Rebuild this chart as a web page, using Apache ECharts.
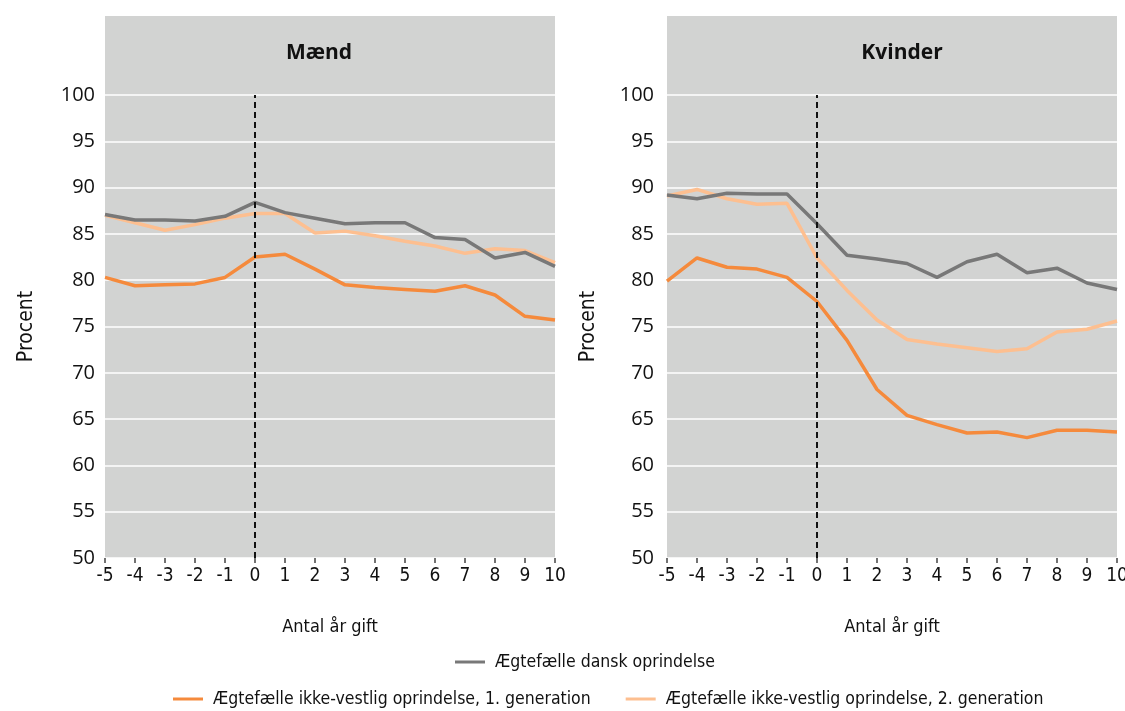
<!DOCTYPE html>
<html><head><meta charset="utf-8">
<script src="https://cdn.jsdelivr.net/npm/echarts@6/dist/echarts.min.js"></script>
<style>html,body{margin:0;padding:0;background:#fff}#c{width:1125px;height:711px}</style>
</head><body><div id="c"></div>
<script>
const years = [-5,-4,-3,-2,-1,0,1,2,3,4,5,6,7,8,9,10];
const panels = ['Mænd','Kvinder'];
const seriesNames = ['Ægtefælle dansk oprindelse','Ægtefælle ikke-vestlig oprindelse, 1. generation','Ægtefælle ikke-vestlig oprindelse, 2. generation'];
// Mænd
const menDansk = [87.1,86.5,86.5,86.4,86.9,88.4,87.3,86.7,86.1,86.2,86.2,84.6,84.4,82.4,83.0,81.5];
const menGen1  = [80.3,79.4,79.5,79.6,80.3,82.5,82.8,81.2,79.5,79.2,79.0,78.8,79.4,78.4,76.1,75.7];
const menGen2  = [87.0,86.2,85.4,86.0,86.7,87.2,87.2,85.1,85.3,84.8,84.2,83.7,82.9,83.4,83.2,81.9];
// Kvinder
const womDansk = [89.2,88.8,89.4,89.3,89.3,86.1,82.7,82.3,81.8,80.3,82.0,82.8,80.8,81.3,79.7,79.0];
const womGen1  = [79.9,82.4,81.4,81.2,80.3,77.7,73.5,68.2,65.4,64.4,63.5,63.6,63.0,63.8,63.8,63.6];
const womGen2  = [89.1,89.8,88.8,88.2,88.3,82.4,78.9,75.7,73.6,73.1,72.7,72.3,72.6,74.4,74.7,75.6];
const yTicks = [50,55,60,65,70,75,80,85,90,95,100];

const colors = ['#787878','#f58a3c','#fdbf90'];
const BG = '#d2d3d2';
const FONT = '"Liberation Sans Narrow","DejaVu Sans Condensed","Liberation Sans",sans-serif';
const FONT2 = '"Open Sans","Noto Sans",sans-serif';

const gridDefs = [{left:105, width:450}, {left:667, width:450}];
const titleCenters = [314, 897];
const pair = arr => years.map((y,i)=>[y,arr[i]]);
const data = [[menDansk,menGen1,menGen2],[womDansk,womGen1,womGen2]];

const option = {
  animation:false,
  backgroundColor:'#fff',
  graphic: gridDefs.map(g=>({type:'rect', shape:{x:g.left, y:16, width:g.width, height:79}, style:{fill:BG}, z:-1})),
  title: panels.map((p,i)=>({text:p, left:titleCenters[i], top:38, textAlign:'center',
    textStyle:{fontFamily:FONT2, fontWeight:'bold', fontSize:21, color:'#111'}})),
  grid: gridDefs.map(g=>({left:g.left, width:g.width, top:95, height:463, show:true, backgroundColor:BG,
    borderWidth:0, containLabel:false, outerBoundsMode:'none'})),
  xAxis: gridDefs.map((g,i)=>({type:'value', gridIndex:i, min:-5, max:10, interval:1,
    name:'Antal år gift', nameLocation:'middle', nameGap:60,
    nameTextStyle:{fontFamily:FONT, fontSize:18, color:'#111'},
    axisLine:{show:false}, axisTick:{show:true, length:5, lineStyle:{color:'#444', width:1.5}},
    axisLabel:{fontFamily:FONT, fontSize:19, color:'#111', margin:9},
    splitLine:{show:false}})),
  yAxis: gridDefs.map((g,i)=>({type:'value', gridIndex:i, min:yTicks[0], max:yTicks[yTicks.length-1], interval:5,
    name:'Procent', nameLocation:'middle', nameGap:68, nameRotate:90,
    nameTextStyle:{fontFamily:FONT, fontSize:21, color:'#111'},
    axisLine:{show:false}, axisTick:{show:false},
    axisLabel:{fontFamily:FONT2, fontSize:20, color:'#111', margin:i===0?10:13},
    splitLine:{show:true, lineStyle:{color:'#ffffff', width:1.5}}})),
  legend: [
    {data:[seriesNames[0]], top:648, left:450, itemWidth:30, itemHeight:3, itemGap:35,
      icon:'rect', textStyle:{fontFamily:FONT, fontSize:17.5, color:'#111', padding:[0,0,0,5]}},
    {data:[seriesNames[1],seriesNames[2]], top:685, left:168, itemWidth:30, itemHeight:3, itemGap:35,
      icon:'rect', textStyle:{fontFamily:FONT, fontSize:17.5, color:'#111', padding:[0,0,0,5]}}
  ],
  series: []
};
data.forEach((set,pi)=>{
  set.forEach((arr,si)=>{
    const s = {type:'line', name:seriesNames[si], xAxisIndex:pi, yAxisIndex:pi, data:pair(arr),
      symbol:'none', lineStyle:{color:colors[si], width:3.5}, itemStyle:{color:colors[si]}, z: si===0?3:(si===2?2:4)};
    if(si===0){
      s.markLine = {silent:true, symbol:'none', label:{show:false},
        lineStyle:{color:'#111', type:[6,4], width:2}, data:[{xAxis:0}]};
    }
    option.series.push(s);
  });
});
const chart = echarts.init(document.getElementById('c'));
chart.setOption(option);
</script></body></html>
